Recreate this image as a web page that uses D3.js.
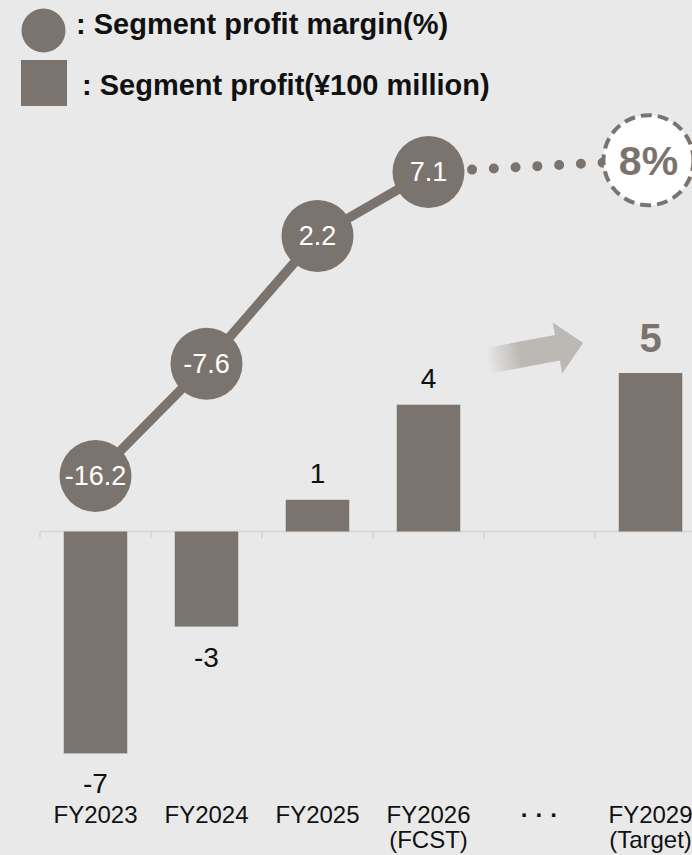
<!DOCTYPE html>
<html>
<head>
<meta charset="utf-8">
<script src="https://cdn.jsdelivr.net/npm/d3@7/dist/d3.min.js"></script>
<style>
  html, body { margin: 0; padding: 0; background: #e9e9e9; }
  svg { display: block; font-family: "Liberation Sans", Arial, sans-serif; }
</style>
</head>
<body>
<svg id="chart" width="692" height="855"></svg>
<script>
// Fiscal years on the x axis (second line shown under the year)
const categories = ["FY2023", "FY2024", "FY2025", "FY2026", "gap", "FY2029"];
const subLabels = ["", "", "", "(FCST)", "", "(Target)"];
// Segment profit, ¥100 million (bars)
const profit = [-7, -3, 1, 4, null, 5];
// Segment profit margin, % (circles)
const margin = [-16.2, -7.6, 2.2, 7.1, null, null];
// Margin target for the final year
const marginTarget = 8;

const W = 692, H = 855;
const grey = "#7b746e";
const svg = d3.select("#chart");

svg.append("rect").attr("width", W).attr("height", H).attr("fill", "#e9e9e9");

const x = d3.scaleBand().domain(categories).range([40, 706]).padding(0);
const cx = c => x(c) + x.bandwidth() / 2;
const barW = x.bandwidth() * 0.572;

const yBar = d3.scaleLinear().domain([-8, 6]).range([785.1, 341.3]);
const yMargin = d3.scaleLinear().domain([-16.2, 8]).range([476, 160.2]);

// --- legend ---
const legend = svg.append("g");
legend.append("circle").attr("cx", 43.5).attr("cy", 30.5).attr("r", 22).attr("fill", grey);
legend.append("rect").attr("x", 21).attr("y", 60).attr("width", 46).attr("height", 46).attr("fill", grey);
legend.append("text").attr("x", 76).attr("y", 34)
  .attr("font-size", 29).attr("font-weight", "bold").attr("fill", "#111")
  .text(": Segment profit margin(%)");
legend.append("text").attr("x", 82).attr("y", 95)
  .attr("font-size", 29).attr("font-weight", "bold").attr("fill", "#111")
  .text(": Segment profit(¥100 million)");

// --- axis ---
const y0 = yBar(0);
const axis = svg.append("g").attr("transform", `translate(0,${y0})`)
  .call(d3.axisBottom(x).tickSize(7).tickFormat(""));
axis.select(".domain").remove();
axis.selectAll(".tick").remove();
axis.append("line").attr("x1", 40).attr("x2", 706).attr("y1", 0).attr("y2", 0)
  .attr("stroke", "#d9d9d9").attr("stroke-width", 2);
const tickPos = categories.map(c => x(c)).concat([x(categories[categories.length - 1]) + x.step()]);
axis.selectAll("line.tk").data(tickPos).join("line").attr("class", "tk")
  .attr("x1", d => d).attr("x2", d => d).attr("y1", 0).attr("y2", 7)
  .attr("stroke", "#d9d9d9").attr("stroke-width", 2);

// --- bars ---
const barData = categories.map((c, i) => ({ c, v: profit[i], i })).filter(d => d.v !== null);
svg.append("g").selectAll("rect").data(barData).join("rect")
  .attr("x", d => cx(d.c) - barW / 2)
  .attr("width", barW)
  .attr("y", d => Math.min(yBar(d.v), y0))
  .attr("height", d => Math.abs(yBar(d.v) - y0))
  .attr("fill", grey);

// bar value labels
svg.append("g").selectAll("text").data(barData).join("text")
  .attr("x", d => cx(d.c))
  .attr("y", d => d.v < 0 ? yBar(d.v) + 40 : (d.i === 5 ? yBar(d.v) - 21 : yBar(d.v) - 17))
  .attr("text-anchor", "middle")
  .attr("font-size", d => d.i === 5 ? 40 : 28)
  .attr("font-weight", d => d.i === 5 ? "bold" : "normal")
  .attr("fill", d => d.i === 5 ? grey : "#111")
  .text(d => d.v);

// --- category labels ---
const catG = svg.append("g").attr("font-size", 24).attr("fill", "#111").attr("text-anchor", "middle");
categories.forEach((c, i) => {
  if (c === "gap") {
    catG.append("text").attr("x", cx(c)).attr("y", 823).attr("font-weight", "bold")
      .text("· · ·");
    return;
  }
  catG.append("text").attr("x", cx(c)).attr("y", 823).text(c);
  if (subLabels[i]) catG.append("text").attr("x", cx(c)).attr("y", 848).text(subLabels[i]);
});

// --- progression arrow ---
const defs = svg.append("defs");
const grad = defs.append("linearGradient").attr("id", "arrowFade")
  .attr("x1", 0).attr("x2", 1).attr("y1", 0).attr("y2", 0);
grad.append("stop").attr("offset", 0).attr("stop-color", "#bcb8b4").attr("stop-opacity", 0);
grad.append("stop").attr("offset", 0.35).attr("stop-color", "#bcb8b4").attr("stop-opacity", 1);
grad.append("stop").attr("offset", 1).attr("stop-color", "#bcb8b4").attr("stop-opacity", 1);
const ax0 = cx("gap") - 52.5, ay0 = 361;
svg.append("path")
  .attr("transform", `translate(${ax0},${ay0}) rotate(-10.6)`)
  .attr("d", "M0,-13 L71.6,-13 L71.6,-26 L97.7,0 L71.6,26 L71.6,13 L0,13 Z")
  .attr("fill", "url(#arrowFade)");

// --- margin line and circles ---
const mData = categories.map((c, i) => ({ c, v: margin[i] })).filter(d => d.v !== null);
const line = d3.line().x(d => cx(d.c)).y(d => yMargin(d.v));
svg.append("path").datum(mData).attr("d", line)
  .attr("fill", "none").attr("stroke", grey).attr("stroke-width", 9.5);

// dotted path toward the target
const last = mData[mData.length - 1];
const tx = cx("FY2029") - 2, ty = yMargin(marginTarget);
svg.append("line")
  .attr("x1", cx(last.c)).attr("y1", yMargin(last.v))
  .attr("x2", tx).attr("y2", ty)
  .attr("stroke", grey).attr("stroke-width", 10).attr("stroke-linecap", "round")
  .attr("stroke-dasharray", "0 21.8");

svg.append("g").selectAll("circle").data(mData).join("circle")
  .attr("cx", d => cx(d.c)).attr("cy", d => yMargin(d.v)).attr("r", 36).attr("fill", grey);
svg.append("g").selectAll("text").data(mData).join("text")
  .attr("x", d => cx(d.c)).attr("y", d => yMargin(d.v)).attr("dy", "0.35em")
  .attr("text-anchor", "middle").attr("font-size", 27).attr("fill", "#fff")
  .text(d => d.v);

// target circle
svg.append("circle").attr("cx", tx).attr("cy", ty).attr("r", 45)
  .attr("fill", "#fff").attr("stroke", grey).attr("stroke-width", 4)
  .attr("stroke-dasharray", "11 6");
svg.append("text").attr("x", tx).attr("y", ty).attr("dy", "0.36em")
  .attr("text-anchor", "middle").attr("font-size", 41).attr("font-weight", "bold")
  .attr("fill", grey).text(marginTarget + "%");
</script>
</body>
</html>
